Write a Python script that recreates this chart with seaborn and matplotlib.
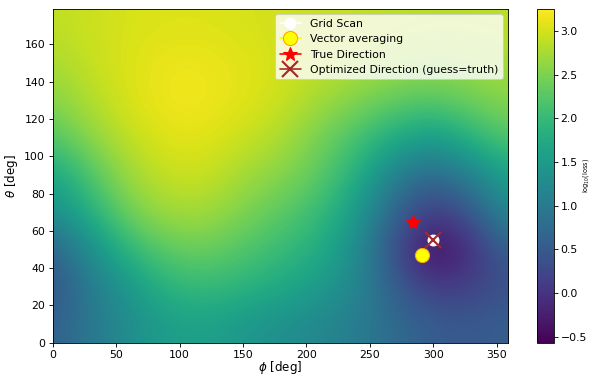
import numpy as np
import matplotlib
matplotlib.use("Agg")
import matplotlib.pyplot as plt
import seaborn as sns

# Sky scan of the loss: azimuth phi (columns) and zenith theta (rows), degrees
phi_nodes = [0, 30, 60, 90, 120, 150, 180, 210, 240, 270, 300, 330, 360]
theta_nodes = [10, 30, 50, 70, 90, 110, 130, 150, 170]

loss_th10 = [0.60, 0.95, 1.30, 1.55, 1.60, 1.45, 1.32, 1.20, 1.02, 0.75, 0.55, 0.48, 0.60]
loss_th30 = [0.40, 1.00, 1.45, 1.90, 2.00, 1.90, 1.72, 1.52, 1.18, 0.55, 0.10, 0.18, 0.40]
loss_th50 = [0.60, 1.30, 1.95, 2.30, 2.40, 2.20, 2.02, 1.78, 1.28, 0.30, -0.57, -0.05, 0.60]
loss_th70 = [1.30, 1.85, 2.45, 2.72, 2.72, 2.50, 2.28, 2.02, 1.48, 0.60, 0.05, 0.45, 1.30]
loss_th90 = [1.65, 2.20, 2.70, 2.92, 2.95, 2.72, 2.55, 2.30, 1.82, 1.05, 0.70, 1.10, 1.65]
loss_th110 = [2.20, 2.60, 2.90, 3.08, 3.08, 2.95, 2.78, 2.45, 2.12, 1.75, 1.50, 1.90, 2.25]
loss_th130 = [2.55, 2.82, 3.03, 3.18, 3.18, 3.08, 2.95, 2.72, 2.52, 2.32, 2.25, 2.42, 2.58]
loss_th150 = [2.75, 2.92, 3.05, 3.15, 3.15, 3.08, 3.00, 2.90, 2.80, 2.70, 2.65, 2.68, 2.75]
loss_th170 = [2.88, 2.95, 3.02, 3.05, 3.05, 3.02, 2.98, 2.95, 2.90, 2.88, 2.85, 2.85, 2.88]

color_range = (-0.57, 3.25)

# Direction estimates (phi, theta) in degrees
grid_scan = (300, 55)
vector_avg = (291, 47)
true_dir = (284, 65)
optimized = (300, 55)

loss = np.array([loss_th10, loss_th30, loss_th50, loss_th70, loss_th90,
                 loss_th110, loss_th130, loss_th150, loss_th170])

sns.set_style("ticks")
plt.rcParams["font.family"] = ["DejaVu Sans"]
plt.rcParams["font.size"] = 10
plt.rcParams["axes.edgecolor"] = "black"
plt.rcParams["text.color"] = "black"
plt.rcParams["axes.labelcolor"] = "black"
plt.rcParams["xtick.color"] = "black"
plt.rcParams["ytick.color"] = "black"

dpi = 78
fig = plt.figure(figsize=(591 / dpi, 375 / dpi), dpi=dpi)
ax = fig.add_axes([52.7 / 591, 1 - 342.7 / 375, (508 - 52.7) / 591, (342.7 - 9) / 375])
cax = fig.add_axes([537 / 591, 1 - 342.7 / 375, 17 / 591, (342.7 - 9) / 375])

dphi = phi_nodes[1] - phi_nodes[0]
dth = theta_nodes[1] - theta_nodes[0]
extent = [phi_nodes[0] - dphi / 2, phi_nodes[-1] + dphi / 2,
          theta_nodes[0] - dth / 2, theta_nodes[-1] + dth / 2]
cmap = sns.color_palette("viridis", as_cmap=True)
im = ax.imshow(loss, origin="lower", extent=extent, aspect="auto",
               interpolation="bicubic", cmap=cmap,
               vmin=color_range[0], vmax=color_range[1])
ax.set_xlim(0, 359)
ax.set_ylim(0, 179)

ax.plot(*grid_scan, marker="o", color="white", markersize=10, label="Grid Scan")
ax.plot(*vector_avg, marker="o", color="yellow", markeredgecolor="orange",
        markersize=13, label="Vector averaging")
ax.plot(*true_dir, marker="*", color="red", markersize=13, label="True Direction")
ax.plot(*optimized, marker="x", color="brown", markersize=14, markeredgewidth=2,
        label="Optimized Direction (guess=truth)")

ax.set_xlabel(r"$\phi$ [deg]", fontsize=11, labelpad=-1)
ax.set_ylabel(r"$\theta$ [deg]", fontsize=11)
ax.legend(loc="upper right")

cb = fig.colorbar(im, cax=cax)
cb.ax.tick_params(pad=2.5)
cb.set_label(r"log$_{10}$(loss)", fontsize=6)
cb.ax.yaxis.set_label_coords(2.58, 0.5)

fig.savefig("out.png", dpi=dpi)
